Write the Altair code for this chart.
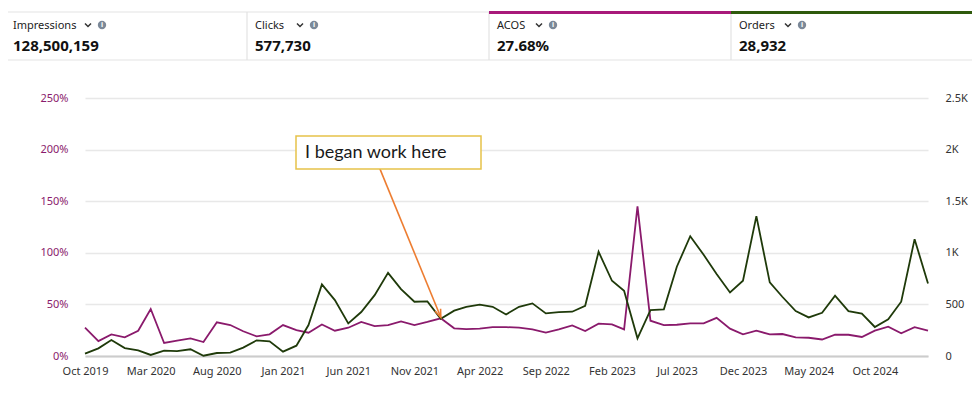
import altair as alt
import pandas as pd

# ---------------- data ----------------
months = pd.date_range("2019-10-01", periods=65, freq="MS")

acos_pct = [27.4, 14.5, 21, 18, 24.5, 45.5, 12.6, 15, 17, 13.5,
            32.6, 30, 24, 19, 21, 30, 25, 22.6, 30.6, 24.5,
            27.4, 33, 29, 30, 33.5, 30, 33, 36.5, 26.8, 26,
            26.5, 28, 28, 27.4, 25.8, 22.6, 25.8, 29.7, 24.2, 31.3,
            30.6, 25.8, 145, 34.2, 30, 30.3, 31.6, 31.6, 37, 26.5,
            21, 24.5, 21, 21.3, 18, 17.7, 16, 20.6, 20.6, 18.4,
            24.5, 28.4, 22, 28, 24.5]

orders = [23, 74, 155, 77, 55, 10, 52, 48, 65, 3,
          29, 32, 81, 152, 142, 42, 100, 300, 694, 542,
          316, 426, 590, 806, 648, 526, 529, 361, 439, 477,
          497, 477, 403, 477, 510, 413, 426, 429, 487, 1010,
          729, 632, 171, 445, 452, 865, 1161, 981, 794, 616,
          729, 1355, 713, 574, 435, 374, 419, 584, 435, 410,
          281, 355, 526, 1132, 703]

kpi_labels = ["Impressions", "Clicks", "ACOS", "Orders"]
kpi_values = ["128,500,159", "577,730", "27.68%", "28,932"]

left_ticks = [0, 50, 100, 150, 200, 250]
right_ticks = [0, 500, 1000, 1500, 2000, 2500]
x_tick_months = months[::5]

annotation_text = "I began work here"
arrow_start = (pd.Timestamp("2021-08-13"), 181.6)
arrow_tip = (pd.Timestamp("2022-01-01"), 37.5)

# ---------------- styles / geometry ----------------
PURPLE = "#8a1a6c"
GREEN = "#1f3a0a"
ORANGE = "#ed7d31"
FONT = "Noto Sans"
W, H = 857, 348
OX, OY = 78, 8  # page position of the plot view origin


def vx(px):
    return px - OX


def vy(py):
    return py - OY


df = pd.DataFrame({"month": months, "acos": acos_pct, "orders": orders})

x_scale = alt.Scale(
    domain=[alt.DateTime(year=2019, month=10, date=1),
            alt.DateTime(year=2025, month=2, date=1)],
    range=[vx(85), vx(928)], nice=False)
y_range = [vy(356), vy(98)]
left_scale = alt.Scale(domain=[0, 250], range=y_range, nice=False, zero=False)
right_scale = alt.Scale(domain=[0, 2500], range=y_range, nice=False, zero=False)

x_axis = alt.Axis(values=[alt.DateTime(year=d.year, month=d.month, date=1) for d in x_tick_months],
                  format="%b %Y", labelColor="#333333", labelFontSize=11, labelFont=FONT,
                  ticks=False, tickSize=0, labelPadding=9, labelFlush=False, grid=False,
                  domain=True, domainColor="#cccccc", domainWidth=2, labelOverlap=False)


def xenc(field):
    return alt.X(field, scale=x_scale, title=None, axis=x_axis)


acos_line = alt.Chart(df).mark_line(color=PURPLE, strokeWidth=1.8).encode(
    x=xenc("month:T"),
    y=alt.Y("acos:Q", scale=left_scale, title=None,
            axis=alt.Axis(values=left_ticks, labelExpr="datum.value + '%'", labelColor=PURPLE,
                          labelFontSize=11, labelFont=FONT, ticks=False, tickSize=0,
                          labelPadding=10, domain=False, grid=True, gridColor="#e8e8e8",
                          gridWidth=1.5)))

orders_line = alt.Chart(df).mark_line(color=GREEN, strokeWidth=1.8).encode(
    x=xenc("month:T"),
    y=alt.Y("orders:Q", scale=right_scale, title=None,
            axis=alt.Axis(orient="right", values=right_ticks,
                          labelExpr="datum.value >= 1000 ? format(datum.value / 1000, '~g') + 'K' : format(datum.value, 'd')",
                          labelColor="#333333", labelFontSize=11, labelFont=FONT, ticks=False,
                          tickSize=0, labelPadding=10, domain=False, grid=False)))

# annotation arrow in data coordinates
arrow_df = pd.DataFrame({"month": [arrow_start[0]], "month2": [arrow_tip[0]],
                         "y": [arrow_start[1]], "y2": [arrow_tip[1]]})
arrow_rule = alt.Chart(arrow_df).mark_rule(color=ORANGE, strokeWidth=1.6).encode(
    x=xenc("month:T"), x2="month2:T",
    y=alt.Y("y:Q", scale=left_scale, axis=None), y2="y2:Q")
head_df = pd.DataFrame({"month": [arrow_tip[0]], "y": [arrow_tip[1]]})
arrow_head = alt.Chart(head_df).mark_point(
    shape="M-0.6,-1.6L0,0L0.6,-1.6", size=100, angle=338, filled=False,
    stroke=ORANGE, strokeWidth=1.6, opacity=1).encode(
    x=xenc("month:T"),
    y=alt.Y("y:Q", scale=left_scale, axis=None))

one = pd.DataFrame({"k": [0]})
note_box = alt.Chart(one).mark_rect(fill="white", stroke="#e6c24a", strokeWidth=1.5).encode(
    x=alt.value(vx(296)), x2=alt.value(vx(481)), y=alt.value(vy(136)), y2=alt.value(vy(169)))
note_text = alt.Chart(pd.DataFrame({"t": [annotation_text]})).mark_text(
    align="left", baseline="middle", font="Lato", fontSize=18, color="#1a1a1a").encode(
    text="t:N", x=alt.value(vx(305)), y=alt.value(vy(153)))

# ---------------- KPI header ----------------
header = [
    alt.Chart(one).mark_rect(fill="white", stroke="#e3e3e3", strokeWidth=1.2).encode(
        x=alt.value(vx(5)), x2=alt.value(vx(975)), y=alt.value(vy(12)), y2=alt.value(vy(60)))
]
card_x0 = [5, 247, 489, 731]
card_x1 = [247, 489, 731, 975]
for sx in card_x0[1:]:
    header.append(alt.Chart(one).mark_rule(color="#e3e3e3", strokeWidth=1.2).encode(
        x=alt.value(vx(sx)), y=alt.value(vy(12)), y2=alt.value(vy(60))))
top_colors = {2: "#a8197a", 3: "#2f5a0c"}
for i, c in top_colors.items():
    header.append(alt.Chart(one).mark_rect(fill=c).encode(
        x=alt.value(vx(card_x0[i])), x2=alt.value(vx(card_x1[i])),
        y=alt.value(vy(11)), y2=alt.value(vy(14))))

label_width = {"Impressions": 61, "Clicks": 31, "ACOS": 28, "Orders": 35}
for i, (lab, val) in enumerate(zip(kpi_labels, kpi_values)):
    lx = card_x0[i] + 8
    header.append(alt.Chart(pd.DataFrame({"t": [lab]})).mark_text(
        align="left", baseline="middle", font=FONT, fontSize=11, color="#222222").encode(
        text="t:N", x=alt.value(vx(lx)), y=alt.value(vy(26))))
    header.append(alt.Chart(pd.DataFrame({"t": [val]})).mark_text(
        align="left", baseline="middle", font=FONT, fontSize=15, fontWeight="bold",
        color="#111111").encode(text="t:N", x=alt.value(vx(lx)), y=alt.value(vy(46))))
    cx = lx + label_width[lab] + 14
    header.append(alt.Chart(one).mark_point(
        shape="M-1,-0.5L0,0.5L1,-0.5", size=36, filled=False, stroke="#333333",
        strokeWidth=1.5, opacity=1).encode(x=alt.value(vx(cx)), y=alt.value(vy(25))))
    ix = lx + label_width[lab] + 28
    header.append(alt.Chart(one).mark_point(
        shape="circle", size=70, filled=True, color="#7b8898", opacity=1).encode(
        x=alt.value(vx(ix)), y=alt.value(vy(25))))
    header.append(alt.Chart(pd.DataFrame({"t": ["i"]})).mark_text(
        align="center", baseline="middle", font=FONT, fontSize=7, fontWeight="bold",
        color="white").encode(text="t:N", x=alt.value(vx(ix)), y=alt.value(vy(25))))

chart = alt.layer(
    acos_line, orders_line, arrow_rule, arrow_head, note_box, note_text, *header
).resolve_scale(y="independent").properties(
    width=W, height=H,
    autosize=alt.AutoSizeParams(type="none"),
    padding={"left": 70, "top": 0, "right": 37, "bottom": 30},
    background="white",
).configure_view(stroke=None)

chart.save("out.html", embed_options={"renderer": "svg", "actions": False})
